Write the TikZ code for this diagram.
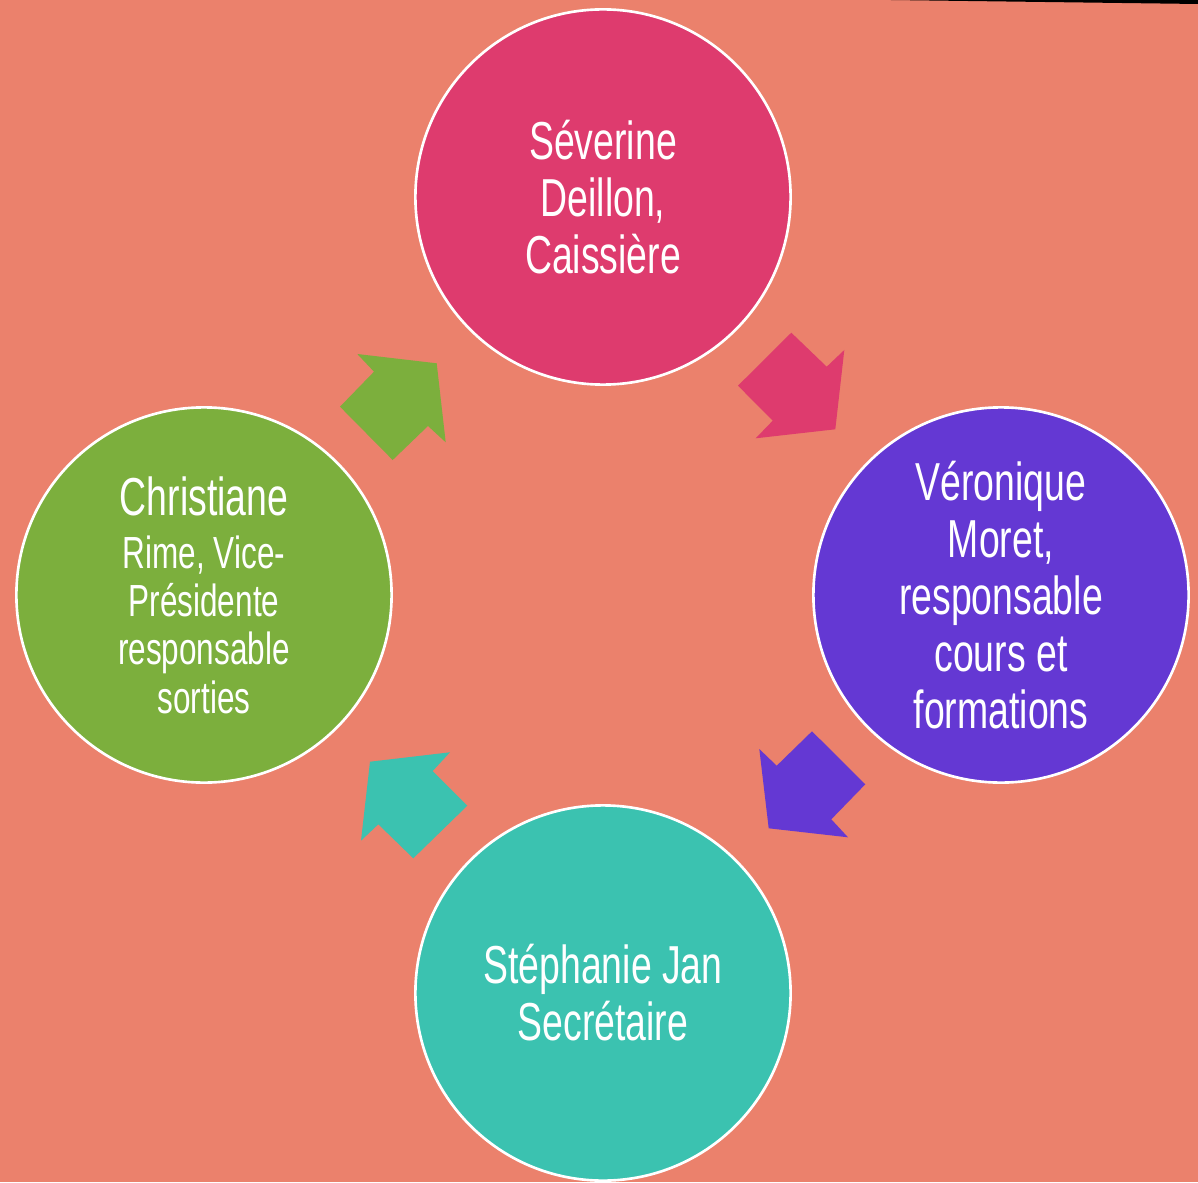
\documentclass[tikz,border=0pt]{standalone}
\usepackage{fontspec}
\setmainfont[FakeStretch=0.7]{Liberation Sans}
\definecolor{bgsalmon}{RGB}{235,129,108}
\definecolor{cpink}{RGB}{222,59,110}
\definecolor{cpurple}{RGB}{100,56,211}
\definecolor{cteal}{RGB}{59,194,176}
\definecolor{cgreen}{RGB}{124,175,61}
\newcommand{\smallrole}{\fontsize{12.8}{13.7}\selectfont}
\tikzset{
  member/.style={circle, draw=white, line width=0.75pt, minimum size=3.75cm,
    inner sep=0pt, align=center, text=white, font=\fontsize{15.2}{16.2}\selectfont},
  turn/.style={draw=none}
}
\begin{document}
\begin{tikzpicture}[x=0.01cm,y=0.01cm]
      \fill[bgsalmon] (-603,-587) rectangle (595,595);
      \fill[black] (287,595) -- (595,595) -- (595,591) -- cycle;
      \draw
        (90:398) node[member, fill=cpink] (sev){S\'everine\\Deillon,\\Caissi\`ere}
        (0:398) node[member, fill=cpurple] (ver){V\'eronique\\Moret,\\responsable\\cours et\\formations}
        (270:398) node[member, fill=cteal] (ste){St\'ephanie Jan\\Secr\'etaire}
        (180:399) node[member, fill=cgreen] (chr){Christiane\\[-1pt]\smallrole Rime, Vice-\\[-2.5pt]
          \smallrole Pr\'esidente\\[-2.5pt]\smallrole responsable\\[-2.5pt]\smallrole sorties};
      \begin{scope}[turn]
        \fill[cpink] (188.3,262.3) -- (223.7,228.3) -- (241.3,245) -- (232.3,165.7)
          -- (152.7,156.7) -- (169.7,174.3) -- (135,209.3) -- cycle;
        \fill[cpurple] (209,-136.3) -- (262.3,-189.3) -- (228.3,-224.3) -- (245,-242.3)
          -- (165.7,-233.3) -- (156.3,-154) -- (173.7,-170.7) -- cycle;
        \fill[cteal] (-233,-166.7) -- (-153,-157.3) -- (-170.3,-176) -- (-135.7,-210.7)
          -- (-189.7,-263.3) -- (-224.7,-229.3) -- (-242,-245.7) -- cycle;
        \fill[cgreen] (-245.7,241) -- (-166.3,231.7) -- (-157.3,152.7) -- (-175,169)
          -- (-210.3,135) -- (-263,188.3) -- (-229,223.3) -- cycle;
      \end{scope}
    \end{tikzpicture}
\end{document}
